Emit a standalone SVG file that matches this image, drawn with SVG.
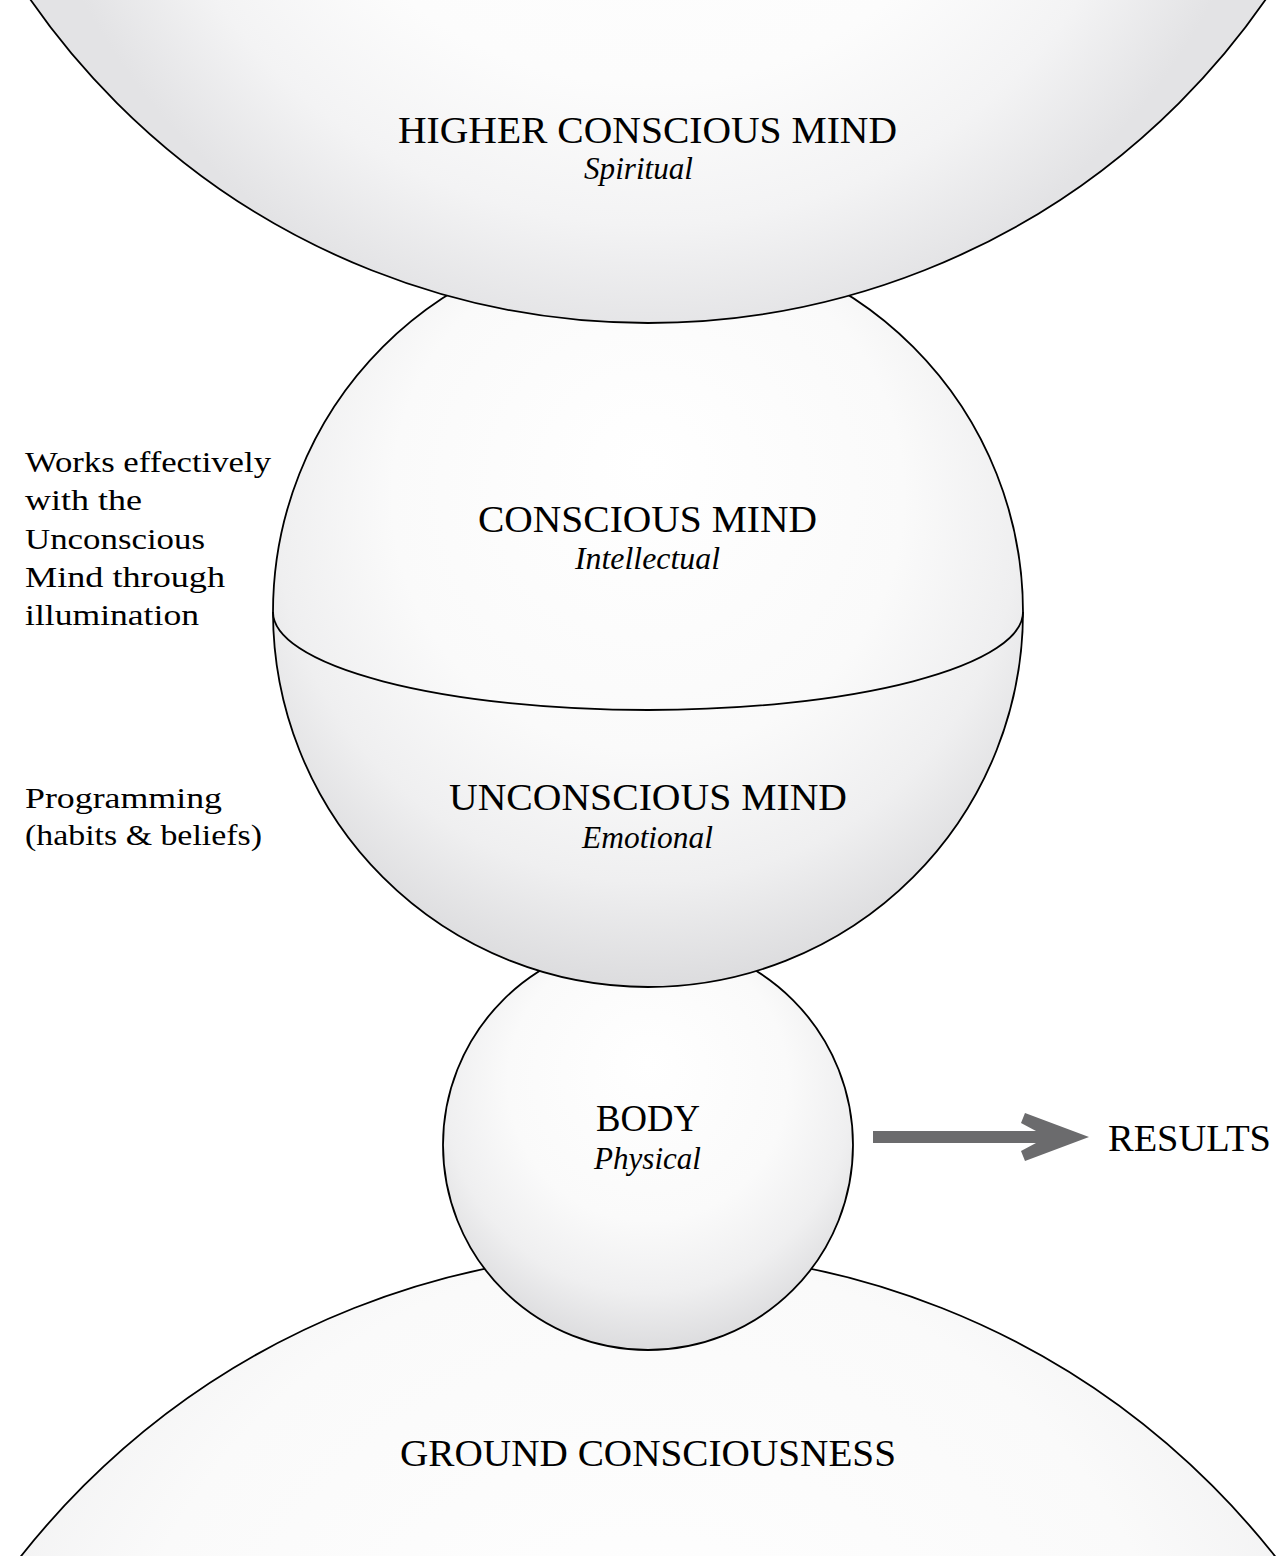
<svg xmlns="http://www.w3.org/2000/svg" width="1286" height="1556" viewBox="0 0 1286 1556">
<defs>
<radialGradient id="sphere" cx="0.5" cy="0.38" r="0.62" fx="0.5" fy="0.3">
<stop offset="0" stop-color="#ffffff"/>
<stop offset="0.55" stop-color="#fafafa"/>
<stop offset="0.8" stop-color="#efeff0"/>
<stop offset="1" stop-color="#dcdcde"/>
</radialGradient>
<radialGradient id="topsphere" gradientUnits="userSpaceOnUse" cx="648" cy="-300" r="640">
<stop offset="0" stop-color="#ffffff"/>
<stop offset="0.6" stop-color="#fcfcfc"/>
<stop offset="0.82" stop-color="#f3f3f4"/>
<stop offset="1" stop-color="#e3e3e5"/>
</radialGradient>
<style>
.orb{fill:url(#sphere);stroke:#000;stroke-width:1.8}
.line{fill:none;stroke:#000;stroke-width:1.8}
.t{font-family:"Liberation Serif","Times New Roman",serif;fill:#000}
.title{font-size:37px}
.sub{font-size:31px;font-style:italic}
.side{font-size:30px}
</style>
</defs>
<rect width="1286" height="1556" fill="#ffffff"/>
<g id="ground">
<circle class="orb" cx="648" cy="2050" r="798"/>
<text class="t title" x="400" y="1466" textLength="496" lengthAdjust="spacingAndGlyphs">GROUND CONSCIOUSNESS</text>
</g>
<g id="body">
<circle class="orb" cx="648" cy="1145" r="205"/>
<text class="t title" x="596" y="1131" textLength="104" lengthAdjust="spacingAndGlyphs">BODY</text>
<text class="t sub" x="594" y="1169" textLength="107" lengthAdjust="spacingAndGlyphs">Physical</text>
</g>
<g id="mind">
<circle class="orb" cx="648" cy="612" r="375"/>
<path class="line" d="M273,612 A375,98 0 0 0 1023,612"/>
<text class="t title" x="478" y="532" textLength="339" lengthAdjust="spacingAndGlyphs">CONSCIOUS MIND</text>
<text class="t sub" x="575" y="569" textLength="145" lengthAdjust="spacingAndGlyphs">Intellectual</text>
<text class="t title" x="449" y="810" textLength="398" lengthAdjust="spacingAndGlyphs">UNCONSCIOUS MIND</text>
<text class="t sub" x="582" y="848" textLength="131" lengthAdjust="spacingAndGlyphs">Emotional</text>
</g>
<g id="higher">
<circle cx="648" cy="-428" r="751" fill="url(#topsphere)" stroke="#000" stroke-width="1.8"/>
<text class="t title" x="398" y="143" textLength="499" lengthAdjust="spacingAndGlyphs">HIGHER CONSCIOUS MIND</text>
<text class="t sub" x="584" y="179" textLength="109" lengthAdjust="spacingAndGlyphs">Spiritual</text>
</g>
<g id="notes">
<text class="t side" x="25" y="472" textLength="246" lengthAdjust="spacingAndGlyphs">Works effectively</text>
<text class="t side" x="25" y="510" textLength="117" lengthAdjust="spacingAndGlyphs">with the</text>
<text class="t side" x="25" y="549" textLength="180" lengthAdjust="spacingAndGlyphs">Unconscious</text>
<text class="t side" x="25" y="587" textLength="200" lengthAdjust="spacingAndGlyphs">Mind through</text>
<text class="t side" x="25" y="625" textLength="174" lengthAdjust="spacingAndGlyphs">illumination</text>
<text class="t side" x="25" y="808" textLength="197" lengthAdjust="spacingAndGlyphs">Programming</text>
<text class="t side" x="25" y="845" textLength="237" lengthAdjust="spacingAndGlyphs">(habits &amp; beliefs)</text>
</g>
<g id="results">
<text class="t title" x="1108" y="1151" textLength="163" lengthAdjust="spacingAndGlyphs">RESULTS</text>
</g>
<g id="connectors">
<path d="M873,1131 L1036,1131 L1021,1123 L1025,1113 L1089,1137 L1025,1161 L1021,1151 L1036,1143 L873,1143 Z" fill="#6b6b6d"/>
</g>
</svg>
